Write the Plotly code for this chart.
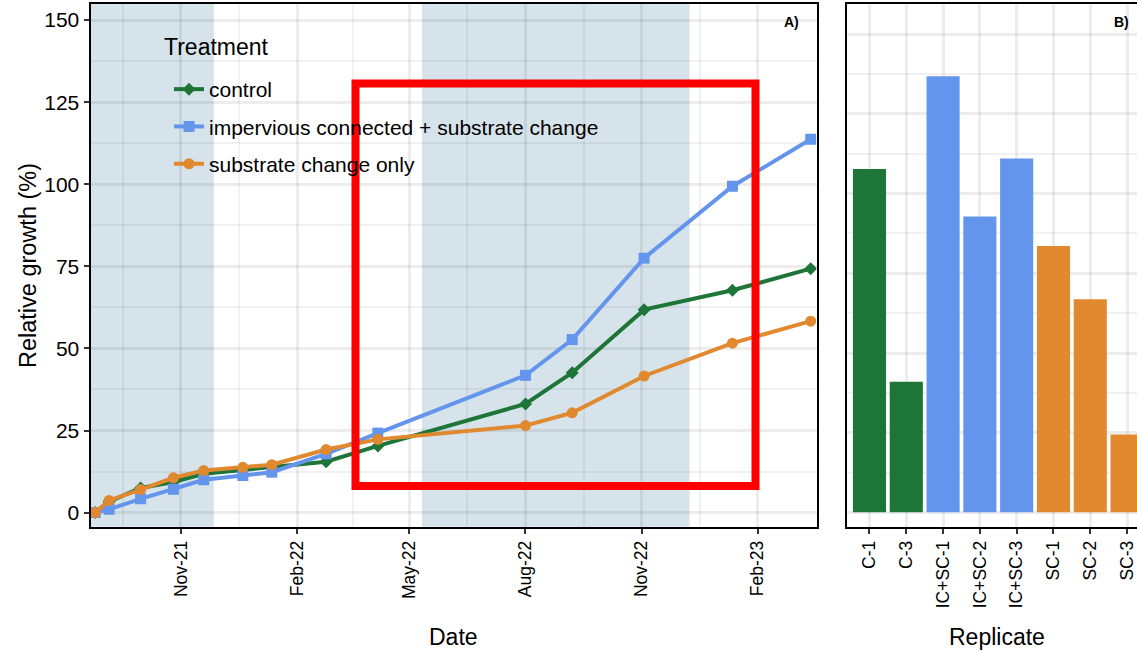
import plotly.graph_objects as go
import pandas as pd

# ---------------- data ----------------
dates = ["2021-08-25", "2021-09-05", "2021-09-30", "2021-10-26", "2021-11-19",
         "2021-12-20", "2022-01-12", "2022-02-24", "2022-04-06", "2022-08-01",
         "2022-09-07", "2022-11-03", "2023-01-12", "2023-03-15"]
control = [0, 3.3, 7.5, 9.3, 11.8, 13.0, 13.9, 15.5, 20.3, 33.1, 42.6, 61.8, 67.7, 74.3]
ic_sc = [0, 1.0, 4.2, 7.1, 10.0, 11.3, 12.3, 17.9, 24.2, 41.8, 52.7, 77.5, 99.4, 113.7]
sc_only = [0, 3.7, 7.0, 10.6, 12.8, 13.8, 14.6, 19.2, 22.3, 26.5, 30.4, 41.6, 51.6, 58.3]

series_names = ["control", "impervious connected + substrate change", "substrate change only"]

replicates = ["C-1", "C-3", "IC+SC-1", "IC+SC-2", "IC+SC-3", "SC-1", "SC-2", "SC-3"]
final_growth = [107.7, 41.0, 136.8, 92.8, 111.0, 83.6, 66.9, 24.4]
replicate_group = ["control", "control", "ic", "ic", "ic", "sc", "sc", "sc"]

x_tick_vals = ["2021-11-01", "2022-02-01", "2022-05-01", "2022-08-01", "2022-11-01", "2023-02-01"]
x_tick_text = ["Nov-21", "Feb-22", "May-22", "Aug-22", "Nov-22", "Feb-23"]

wet_start = ["2021-08-01", "2022-05-11"]
wet_end = ["2021-11-27", "2022-12-09"]

# ---------------- style ----------------
W, H = 1137, 653
FONT = "Liberation Sans, Arial, Helvetica, sans-serif"
col = {"control": "#1E7538", "ic": "#6495ED", "sc": "#E0892F"}
grid_major = "rgba(0,0,0,0.072)"
grid_minor = "rgba(0,0,0,0.055)"

def px_x(p):
    return p / W

def px_y(p):
    return 1 - p / H

nov1 = pd.Timestamp("2021-11-01")
x_left = nov1 + pd.Timedelta(days=-71.7)
x_right = nov1 + pd.Timedelta(days=503.6)

# minor gridline positions: midpoints between major breaks
tv = [pd.Timestamp(t) for t in x_tick_vals]
ext = [tv[0] - (tv[1] - tv[0])] + tv + [tv[-1] + (tv[-1] - tv[-2])]
minor_x = [(ext[i] + (ext[i + 1] - ext[i]) / 2).strftime("%Y-%m-%d %H:%M") for i in range(len(ext) - 1)]

fig = go.Figure()

line_specs = [
    (control, series_names[0], col["control"], "diamond", 10),
    (ic_sc, series_names[1], col["ic"], "square", 11),
    (sc_only, series_names[2], col["sc"], "circle", 11),
]
for i, (vals, name, c, sym, sz) in enumerate(line_specs):
    fig.add_trace(go.Scatter(
        x=dates, y=vals, name=name, mode="lines+markers",
        line=dict(color=c, width=4),
        marker=dict(symbol=sym, size=sz, color=c),
        legendgroup="g%d" % i,
        xaxis="x", yaxis="y",
    ))

for g in ["control", "ic", "sc"]:
    xs = [r for r, gg in zip(replicates, replicate_group) if gg == g]
    ys = [v for v, gg in zip(final_growth, replicate_group) if gg == g]
    fig.add_trace(go.Bar(
        x=xs, y=ys, marker=dict(color=col[g], line=dict(width=0)),
        width=0.9, showlegend=False, xaxis="x2", yaxis="y2",
    ))

shapes = []
for s, e in zip(wet_start, wet_end):
    s = max(pd.Timestamp(s), x_left)
    shapes.append(dict(type="rect", xref="x", yref="paper",
                       x0=s.strftime("%Y-%m-%d %H:%M"), x1=e,
                       y0=px_y(526.7), y1=px_y(4),
                       fillcolor="rgb(215,227,235)", line=dict(width=0),
                       layer="below"))
# red highlight rectangle overlaid on the picture
shapes.append(dict(type="rect", xref="paper", yref="paper",
                   x0=px_x(355.5), x1=px_x(755.5), y0=px_y(486), y1=px_y(83.5),
                   line=dict(color="#FF0000", width=8), fillcolor="rgba(0,0,0,0)",
                   layer="above"))

ydom = [px_y(526.7), px_y(4)]
axis_common = dict(showline=True, linecolor="black", linewidth=2, ticks="outside",
                   ticklen=5, tickwidth=2, tickcolor="#333333", automargin=False,
                   zeroline=False)

fig.update_layout(
    width=W, height=H,
    margin=dict(l=0, r=0, t=0, b=0),
    paper_bgcolor="white", plot_bgcolor="white",
    font=dict(family=FONT, color="black"),
    barmode="overlay",
    hovermode=False,
    showlegend=True,
    legend=dict(x=px_x(169), y=px_y(69), xanchor="left", yanchor="top",
                bgcolor="rgba(0,0,0,0)", font=dict(family=FONT, size=21, color="black"),
                tracegroupgap=7),
    xaxis=dict(domain=[px_x(90.5), px_x(816.5)], type="date",
               range=[x_left.strftime("%Y-%m-%d %H:%M"), x_right.strftime("%Y-%m-%d %H:%M")],
               tickmode="array", tickvals=x_tick_vals, ticktext=x_tick_text, tickangle=-90,
               tickfont=dict(family=FONT, size=17.5, color="black"),
               showgrid=True, gridcolor=grid_major, gridwidth=3, mirror=True,
               minor=dict(tickmode="array", tickvals=minor_x, showgrid=True,
                          gridcolor=grid_minor, gridwidth=2, ticks=""),
               anchor="y", **axis_common),
    yaxis=dict(domain=ydom, range=[-4.3, 154.9], tickmode="linear", tick0=0, dtick=25,
               tickfont=dict(family=FONT, size=21, color="black"),
               showgrid=True, gridcolor=grid_major, gridwidth=3, mirror=True,
               minor=dict(dtick=12.5, tick0=0, showgrid=True, gridcolor=grid_minor,
                          gridwidth=2, ticks=""),
               anchor="x", **axis_common),
    xaxis2=dict(domain=[px_x(847.4), 1.0], type="category",
                categoryorder="array", categoryarray=replicates,
                range=[-0.6, 7.27], tickangle=-90,
                tickfont=dict(family=FONT, size=17.5, color="black"),
                showgrid=True, gridcolor=grid_major, gridwidth=3, mirror=True,
                anchor="y2", **axis_common),
    yaxis2=dict(domain=ydom, range=[-4.5, 159.5], tickmode="linear", tick0=0, dtick=25,
                showgrid=True, gridcolor=grid_major, gridwidth=3,
                minor=dict(dtick=12.5, tick0=0, showgrid=True, gridcolor=grid_minor,
                           gridwidth=2, ticks=""),
                showticklabels=False, showline=True, linecolor="black", linewidth=2,
                ticks="", zeroline=False, automargin=False, anchor="x2"),
    shapes=shapes,
    annotations=[
        dict(text="Relative growth (%)", textangle=-90, xref="paper", yref="paper",
             x=px_x(28), y=px_y(266), xanchor="center", yanchor="middle",
             showarrow=False, font=dict(size=23.5, family=FONT)),
        dict(text="Date", xref="paper", yref="paper", x=px_x(453), y=px_y(637),
             xanchor="center", yanchor="middle",
             showarrow=False, font=dict(size=23, family=FONT)),
        dict(text="Replicate", xref="paper", yref="paper", x=px_x(997), y=px_y(637),
             xanchor="center", yanchor="middle",
             showarrow=False, font=dict(size=23, family=FONT)),
        dict(text="Treatment", xref="paper", yref="paper", x=px_x(162), y=px_y(47),
             xanchor="left", yanchor="middle",
             showarrow=False, font=dict(size=23, family=FONT)),
        dict(text="<b>A)</b>", xref="paper", yref="paper", x=px_x(791), y=px_y(22),
             xanchor="center", yanchor="middle",
             showarrow=False, font=dict(size=14, family=FONT)),
        dict(text="<b>B)</b>", xref="paper", yref="paper", x=px_x(1121), y=px_y(22),
             xanchor="center", yanchor="middle",
             showarrow=False, font=dict(size=14, family=FONT)),
    ],
)

fig.write_html("out.html", config={"displayModeBar": False, "staticPlot": False},
               post_script="document.body.style.margin='0px';document.body.style.overflow='hidden';")
